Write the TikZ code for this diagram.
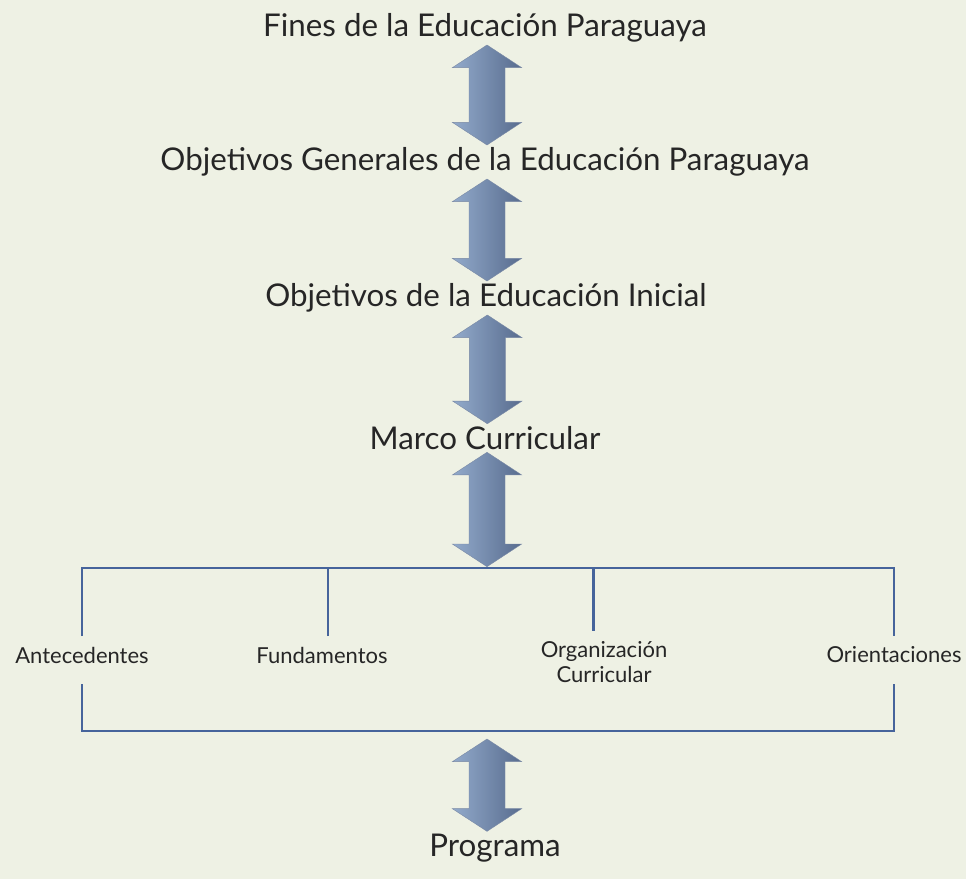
\documentclass[tikz,border=0pt]{standalone}
\usepackage{fontspec}
\setmainfont{Lato}
\usetikzlibrary{calc}

\definecolor{paper}{RGB}{238,241,228}
\definecolor{linkblue}{RGB}{70,100,155}
\definecolor{arrowlite}{RGB}{192,207,226}
\definecolor{arrowmid}{RGB}{146,170,203}
\definecolor{arrowdark}{RGB}{88,108,142}
\definecolor{inkgray}{RGB}{38,38,38}

\tikzset{
  titlenode/.style={inner sep=0.75pt, text=inkgray, font=\fontsize{23.5}{27}\selectfont},
  partnode/.style={inner sep=0.75pt, text=inkgray, font=\fontsize{16.5}{19}\selectfont, align=center},
  bracketline/.style={draw=linkblue, line width=2.1pt},
  arrowbody/.style={left color=arrowmid, middle color=arrowlite, right color=arrowdark, draw=arrowdark!80, line width=0.3pt},
}

% shaded two-way arrow, tips at the two given points
\newcommand{\twowayarrow}[2]{%
  \path[arrowbody] let \p1=(#1), \p2=(#2) in
    (\x1,\y1) -- (\x1+26pt,\y1-17pt) -- (\x1+13.5pt,\y1-17pt) -- (\x1+13.5pt,\y2+17pt)
    -- (\x1+26pt,\y2+17pt) -- (\x1,\y2) -- (\x1-26pt,\y2+17pt) -- (\x1-13.5pt,\y2+17pt)
    -- (\x1-13.5pt,\y1-17pt) -- (\x1-26pt,\y1-17pt) -- cycle;}

\begin{document}
\begin{tikzpicture}[x=0.75pt,y=-0.75pt]
\useasboundingbox (0,0) rectangle (966,879);
\fill[paper] (0,0) rectangle (966,879);

% Text Node
\node[titlenode] (fines) at (485,28) {Fines de la Educación Paraguaya};
% Text Node
\node[titlenode] (genobj) at (485,162) {Objetivos Generales de la Educación Paraguaya};
% Text Node
\node[titlenode] (iniobj) at (486,298) {Objetivos de la Educación Inicial};
% Text Node
\node[titlenode] (marco) at (485,438) {Marco Curricular};
% Text Node
\node[partnode] (antec) at (82,655) {Antecedentes};
% Text Node
\node[partnode] (fund) at (322,655) {Fundamentos};
% Text Node
\node[partnode] (organiz) at (604,662) {Organización\\Curricular};
% Text Node
\node[partnode] (orient) at (894,655) {Orientaciones};
% Text Node
\node[titlenode] (prog) at (495,848) {Programa};

\coordinate (brtop) at (487,568);
\coordinate (brbot) at (487,731);

%Bracket Lines
\draw[bracketline] ([yshift=7pt]antec.north) |- (brtop) -| ([yshift=7pt]orient.north);
\draw[bracketline] ([xshift=4.5pt,yshift=7pt]fund.north) -- ([xshift=4.5pt]fund.north |- brtop);
\draw[bracketline] ([xshift=-8pt,yshift=7pt]organiz.north) -- ([xshift=-8pt]organiz.north |- brtop);
\draw[bracketline] ([yshift=-15pt]antec.south) |- (brbot) -| ([yshift=-15pt]orient.south);

%Double Arrows
\twowayarrow{[xshift=1.5pt,yshift=-1pt]fines.south}{[xshift=1.5pt,yshift=1pt]genobj.north}
\twowayarrow{[xshift=1.5pt,yshift=-1pt]genobj.south}{[xshift=1.5pt,yshift=1pt]iniobj.north}
\twowayarrow{[xshift=1pt,yshift=-1pt]iniobj.south}{[xshift=1.5pt,yshift=1pt]marco.north}
\twowayarrow{[xshift=1.5pt,yshift=-1pt]marco.south}{[yshift=1pt]brtop}
\twowayarrow{[yshift=-6pt]brbot}{[xshift=-6pt,yshift=1pt]prog.north}

\end{tikzpicture}
\end{document}
